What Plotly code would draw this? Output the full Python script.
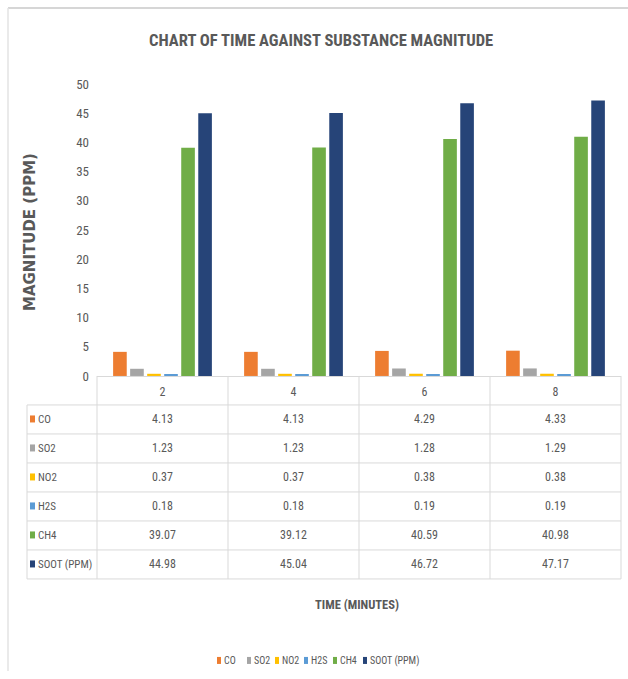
import plotly.graph_objects as go

# Sampling times and measured magnitudes per substance
times = ["2", "4", "6", "8"]
series_names = ["CO", "SO2", "NO2", "H2S", "CH4", "SOOT (PPM)"]
co = [4.13, 4.13, 4.29, 4.33]
so2 = [1.23, 1.23, 1.28, 1.29]
no2 = [0.37, 0.37, 0.38, 0.38]
h2s = [0.18, 0.18, 0.19, 0.19]
ch4 = [39.07, 39.12, 40.59, 40.98]
soot = [44.98, 45.04, 46.72, 47.17]
y_ticks = [0, 5, 10, 15, 20, 25, 30, 35, 40, 45, 50]

series_values = [co, so2, no2, h2s, ch4, soot]
colors = ["#ED7D31", "#A5A5A5", "#FFC000", "#5B9BD5", "#70AD47", "#264478"]

W, H = 628, 679
# Vertical placement: layout rows are given in screen pixels with a small top
# offset and a slight vertical compression of the captured page
Y_OFF, Y_SCALE = 7.0, 0.978
NARROW = "Roboto Condensed, DejaVu Sans Condensed, sans-serif"
TXT = "#595959"
GRID = "#D9D9D9"


def px_x(x):
    """Screen pixel column -> paper fraction."""
    return min(max(x / W, 0.0), 1.0)


def px_y(y):
    """Screen pixel row -> paper fraction."""
    return min(max(1 - ((y - Y_OFF) / Y_SCALE) / H, 0.0), 1.0)


plot_left, plot_right = 97, 621
plot_top, plot_bottom = 84, 376
row_h = 29
label_left = 27

fig = go.Figure()
for name, vals, col in zip(series_names, series_values, colors):
    fig.add_trace(go.Bar(x=times, y=vals, name=name, marker_color=col,
                         marker_line_width=0, showlegend=False))

shapes = []
annotations = []

# Data table grid under the plot
n_rows = len(series_names)
table_bottom = plot_bottom + row_h * (n_rows + 1)
col_w = (plot_right - plot_left) / len(times)
for i in range(len(times) + 1):
    xv = plot_left + i * col_w
    shapes.append(dict(type="line", xref="paper", yref="paper",
                       x0=px_x(xv), x1=px_x(xv), y0=px_y(plot_bottom), y1=px_y(table_bottom),
                       line=dict(color=GRID, width=1)))
shapes.append(dict(type="line", xref="paper", yref="paper",
                   x0=px_x(label_left), x1=px_x(label_left),
                   y0=px_y(plot_bottom + row_h), y1=px_y(table_bottom),
                   line=dict(color=GRID, width=1)))
for r in range(1, n_rows + 2):
    yv = plot_bottom + r * row_h
    shapes.append(dict(type="line", xref="paper", yref="paper",
                       x0=px_x(label_left), x1=px_x(plot_right), y0=px_y(yv), y1=px_y(yv),
                       line=dict(color=GRID, width=1)))

# Row labels with colour keys, and cell values
for r, (name, vals, col) in enumerate(zip(series_names, series_values, colors)):
    yc = plot_bottom + row_h * (r + 1) + row_h / 2
    shapes.append(dict(type="rect", xref="paper", yref="paper",
                       x0=px_x(30), x1=px_x(35), y0=px_y(yc + 3), y1=px_y(yc - 4),
                       fillcolor=col, line=dict(width=0)))
    annotations.append(dict(text=name, xref="paper", yref="paper", x=px_x(36), y=px_y(yc),
                            xanchor="left", yanchor="middle", showarrow=False,
                            font=dict(family=NARROW, size=11, color=TXT)))
    for i, v in enumerate(vals):
        annotations.append(dict(text=f"{v:.2f}", xref="x", yref="paper", x=i, y=px_y(yc),
                                xanchor="center", yanchor="middle", showarrow=False,
                                font=dict(family=NARROW, size=12, color=TXT)))

# Legend drawn as keys under the table
leg_key_x = [217, 247, 275, 304, 333, 363]
leg_y = 661
for name, col, kx in zip(series_names, colors, leg_key_x):
    shapes.append(dict(type="rect", xref="paper", yref="paper",
                       x0=px_x(kx), x1=px_x(kx + 4), y0=px_y(leg_y + 3), y1=px_y(leg_y - 4),
                       fillcolor=col, line=dict(width=0)))
    annotations.append(dict(text=name, xref="paper", yref="paper", x=px_x(kx + 5), y=px_y(leg_y),
                            xanchor="left", yanchor="middle", showarrow=False,
                            font=dict(family=NARROW, size=10, color=TXT)))

# Outer frame edges
shapes.append(dict(type="line", xref="paper", yref="paper", x0=px_x(8), x1=1,
                   y0=px_y(8), y1=px_y(8), line=dict(color="#C8C8C8", width=1.5)))
shapes.append(dict(type="line", xref="paper", yref="paper", x0=px_x(8), x1=px_x(8),
                   y0=px_y(8), y1=0, line=dict(color="#E3E3E3", width=1.5)))

annotations.append(dict(text="<b>CHART OF TIME AGAINST SUBSTANCE MAGNITUDE</b>",
                        xref="paper", yref="paper", x=px_x(321), y=px_y(41),
                        xanchor="center", yanchor="middle", showarrow=False,
                        font=dict(family=NARROW, size=16.6, color=TXT)))
annotations.append(dict(text="<b>MAGNITUDE (PPM)</b>", xref="paper", yref="paper",
                        x=px_x(30), y=px_y(232), textangle=-90,
                        xanchor="center", yanchor="middle", showarrow=False,
                        font=dict(family="DejaVu Sans, Verdana, sans-serif", size=15, color=TXT)))
annotations.append(dict(text="<b>TIME (MINUTES)</b>", xref="paper", yref="paper",
                        x=px_x(357), y=px_y(605),
                        xanchor="center", yanchor="middle", showarrow=False,
                        font=dict(family=NARROW, size=12.5, color=TXT)))

fig.update_layout(
    width=W, height=H,
    margin=dict(l=0, r=0, t=0, b=0),
    paper_bgcolor="white", plot_bgcolor="white",
    barmode="group", bargap=0.22, bargroupgap=0.2,
    showlegend=False,
    xaxis=dict(domain=[px_x(plot_left), px_x(plot_right)], type="category",
               range=[-0.5, len(times) - 0.5],
               showgrid=False, showline=True, linecolor=GRID, linewidth=1,
               ticks="", ticklabelstandoff=5,
               tickfont=dict(family=NARROW, size=12, color=TXT), fixedrange=True),
    yaxis=dict(domain=[px_y(plot_bottom), px_y(plot_top)], range=[0, 50],
               tickvals=y_ticks, showgrid=False, zeroline=False, showline=False,
               ticklabelstandoff=7,
               tickfont=dict(family=NARROW, size=13, color=TXT), fixedrange=True),
    shapes=shapes, annotations=annotations,
)

fig.write_html("out.html")
